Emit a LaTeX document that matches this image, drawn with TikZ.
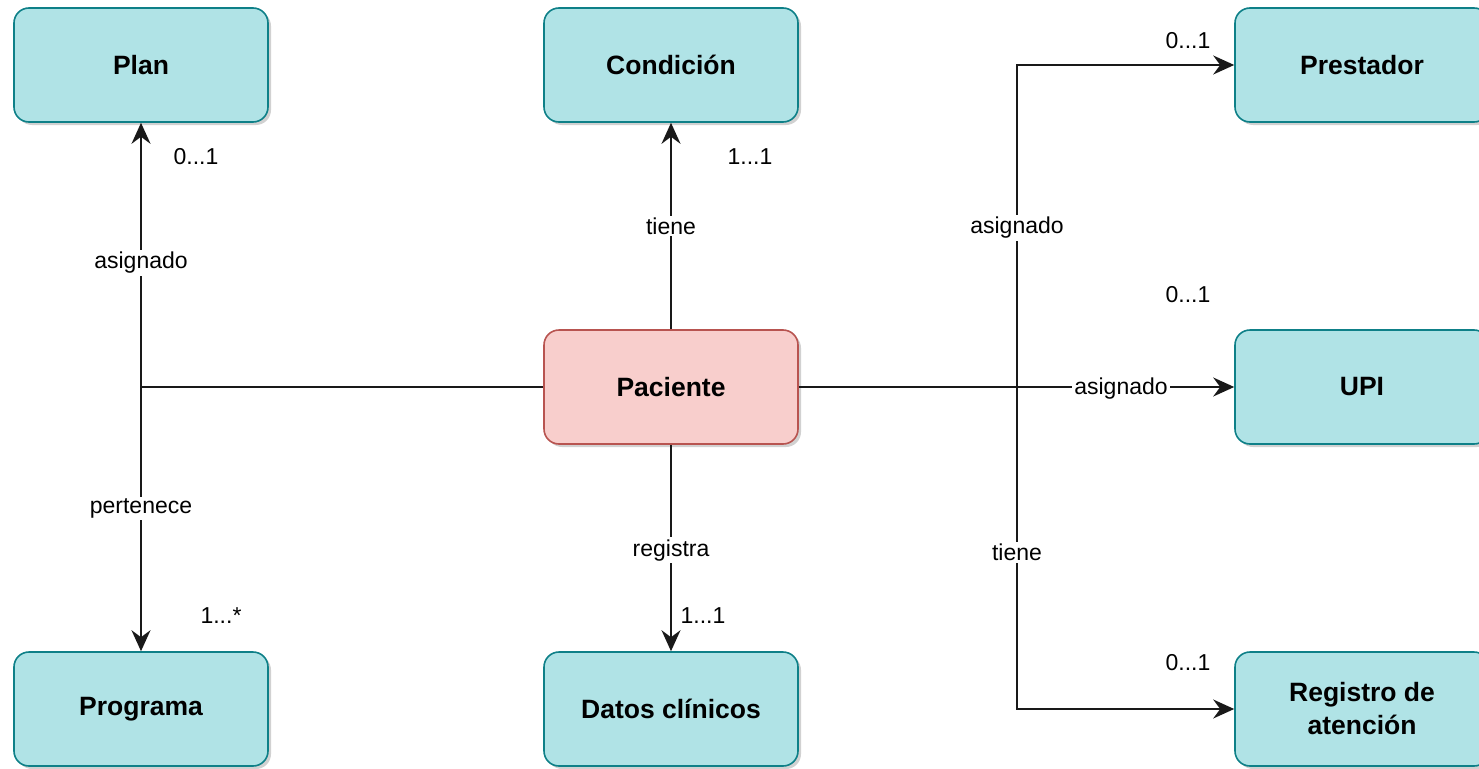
\documentclass[tikz,border=0pt]{standalone}
\usepackage{fontspec}
\setmainfont{Liberation Sans}
\usetikzlibrary{arrows.meta,shadows}

\definecolor{entfill}{HTML}{B0E3E6}
\definecolor{entdraw}{HTML}{0E8088}
\definecolor{mainfill}{HTML}{F8CECC}
\definecolor{maindraw}{HTML}{B85450}

\tikzset{
  entity/.style={draw=entdraw, fill=entfill, line width=1.6pt, rounded corners=15pt,
    minimum width=254pt, minimum height=114pt, align=center, inner sep=0pt,
    font=\fontsize{26.5}{33}\selectfont\bfseries,
    drop shadow={shadow xshift=3pt, shadow yshift=-3pt, opacity=0.18, fill=black}},
  patient/.style={entity, draw=maindraw, fill=mainfill},
  conn/.style={line width=2.2pt, draw=black!90},
  arr/.style={conn, -{Stealth[length=21pt,width=19pt,inset=7pt]}},
  lbl/.style={fill=white, inner sep=2pt, font=\fontsize{23}{27}\selectfont},
  mult/.style={inner sep=0pt, font=\fontsize{23}{27}\selectfont}
}

\begin{document}
\begin{tikzpicture}[x=1pt,y=1pt,yscale=-1,xscale=1]
\clip (0,0) rectangle (1479,768);
\useasboundingbox (0,0) rectangle (1479,768);

%Shape: Rounded Rect [entities]
\node[entity] (plan) at (141,65) {Plan};
\node[entity] (condicion) at (671,65) {Condición};
\node[entity] (prestador) at (1362,65) {Prestador};
\node[patient] (paciente) at (671,387) {Paciente};
\node[entity] (upi) at (1362,387) {UPI};
\node[entity] (programa) at (141,709) {Programa};
\node[entity] (datos) at (671,709) {Datos clínicos};
\node[entity] (registro) at (1362,709) {Registro de\\atención};

%Junction points
\coordinate (hub) at (141,387);
\coordinate (spine) at (1017,387);

%Connectors: left column
\draw[conn] (paciente.west) -- (hub);
\draw[arr] (hub) -- node[lbl, pos=0.47] (l1) {asignado} (plan.south);
\draw[arr] (hub) -- node[lbl, pos=0.46] (l2) {pertenece} (programa.north);

%Connectors: middle column
\draw[arr] (paciente.north) -- node[lbl, pos=0.5] (l3) {tiene} (condicion.south);
\draw[arr] (paciente.south) -- node[lbl, pos=0.51] (l4) {registra} (datos.north);

%Connectors: right column
\draw[conn] (paciente.east) -- (spine);
\draw[arr] (spine) |- node[lbl, pos=0.247] (l5) {asignado} (prestador.west);
\draw[arr] (paciente.east) -- node[lbl, pos=0.74, yshift=-2pt] (l6) {asignado} (upi.west);
\draw[arr] (spine) |- node[lbl, pos=0.257] (l7) {tiene} (registro.west);

% Text Node [multiplicities]
\node[mult] (m1) at (196,157) {0...1};
\node[mult] (m2) at (750,157) {1...1};
\node[mult] (m3) at (221,616) {1...*};
\node[mult] (m4) at (703,616) {1...1};
\node[mult] (m5) at (1188,41) {0...1};
\node[mult] (m6) at (1188,295) {0...1};
\node[mult] (m7) at (1188,663) {0...1};

\end{tikzpicture}
\end{document}
